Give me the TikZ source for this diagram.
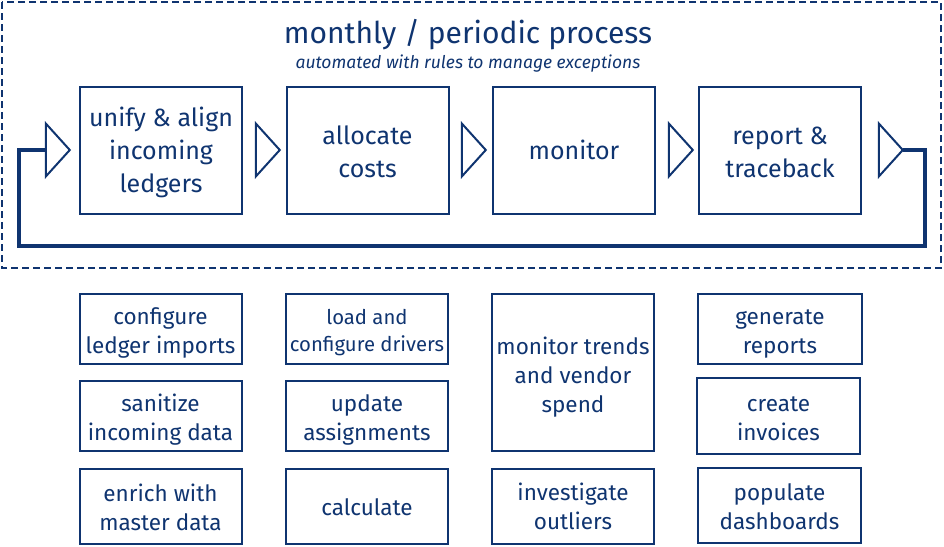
\documentclass[tikz,border=0pt]{standalone}
\usepackage{fontspec}
\setmainfont{Fira Sans}
\usetikzlibrary{shapes.geometric}
\definecolor{navy}{HTML}{0F3470}
\newcommand\tp[1]{\rule{0pt}{#1pt}}
\tikzset{
  every node/.style={text=navy},
  box/.style={draw=navy, line width=2pt, align=center, inner sep=0pt},
  topbox/.style={box, minimum width=162pt, minimum height=127pt,
    font=\fontsize{25}{33}\selectfont},
  botbox/.style={box, font=\fontsize{22.5}{29}\selectfont},
  smallbox/.style={box, font=\fontsize{20.3}{27}\selectfont},
  tri/.style={draw=navy, line width=2pt, isosceles triangle,
    isosceles triangle stretches, minimum width=53pt, minimum height=24pt,
    inner sep=0pt, outer sep=0pt},
  loopline/.style={draw=navy, line width=4.5pt},
  frame/.style={draw=navy, line width=1.8pt, dash pattern=on 7pt off 4pt}
}
\begin{document}
\begin{tikzpicture}[x=1pt,y=-1pt]
\useasboundingbox (0,0) rectangle (944,546);
\draw[frame] (2,2) rectangle (941,268);
\node (title) at (468,35) {\fontsize{30}{33}\selectfont monthly / periodic process};
\node (sub) at (468,63.5) {\fontsize{17.5}{20}\selectfont\itshape automated with rules to manage exceptions};
% top row
\node[topbox] (b1) at (161,150) {\tp{24.3}unify \& align\\incoming\\ledgers};
\node[topbox] (b2) at (367.5,150) {\tp{22.3}allocate\\costs};
\node[topbox] (b3) at (574,150) {monitor};
\node[topbox] (b4) at (780,150) {\tp{21.3}report \&\\traceback};
% triangles
\node[tri] (tL) at (56,150) {};
\node[tri] (t1) at (266,150) {};
\node[tri] (t2) at (472,150) {};
\node[tri] (t3) at (679,150) {};
\node[tri] (tR) at (889,150) {};
\coordinate (cR) at (925,246);
\coordinate (cL) at (19,150);
\draw[loopline] (tR.apex) -| (cR) -| (cL) -- (tL.west);
% bottom column 1
\node[botbox, minimum width=162pt, minimum height=70pt] (c11) at (160.5,329) {\tp{25.4}configure\\ledger imports};
\node[botbox, minimum width=162pt, minimum height=70pt] (c12) at (160.5,416) {\tp{24.8}sanitize\\incoming data};
\node[botbox, minimum width=162pt, minimum height=75pt] (c13) at (160.5,506) {\tp{19.4}enrich with\\master data};
% column 2
\node[smallbox, minimum width=162pt, minimum height=70pt] (c21) at (367,329) {\tp{22.8}load and\\configure drivers};
\node[botbox, minimum width=162pt, minimum height=70pt] (c22) at (367,416) {\tp{24.4}update\\assignments};
\node[botbox, minimum width=162pt, minimum height=75pt] (c23) at (367,506) {\tp{18.4}calculate};
% column 3
\node[botbox, minimum width=162pt, minimum height=157pt] (c31) at (573,372.5) {\tp{26.4}monitor trends\\and vendor\\spend};
\node[botbox, minimum width=162pt, minimum height=75pt] (c32) at (573,506) {\tp{17.8}investigate\\outliers};
% column 4
\node[botbox, minimum width=164pt, minimum height=70pt] (c41) at (780,329) {\tp{24.6}generate\\reports};
\node[botbox, minimum width=163pt, minimum height=76pt] (c42) at (778.5,416) {\tp{20.6}create\\invoices};
\node[botbox, minimum width=163pt, minimum height=75pt] (c43) at (779.5,505.5) {\tp{19.4}populate\\dashboards};
\end{tikzpicture}
\end{document}
